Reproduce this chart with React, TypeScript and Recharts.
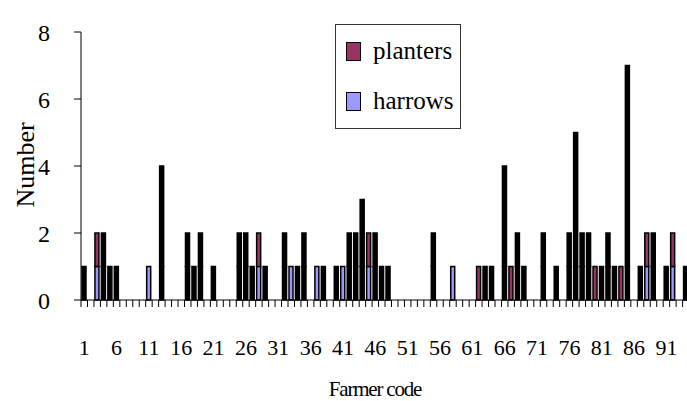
import { Bar, BarChart, XAxis, YAxis } from 'recharts';

// farmer codes 1..96 (the plot runs off the right edge of the picture)
const codes = [
  1, 2, 3, 4, 5, 6, 7, 8, 9, 10,
  11, 12, 13, 14, 15, 16, 17, 18, 19, 20,
  21, 22, 23, 24, 25, 26, 27, 28, 29, 30,
  31, 32, 33, 34, 35, 36, 37, 38, 39, 40,
  41, 42, 43, 44, 45, 46, 47, 48, 49, 50,
  51, 52, 53, 54, 55, 56, 57, 58, 59, 60,
  61, 62, 63, 64, 65, 66, 67, 68, 69, 70,
  71, 72, 73, 74, 75, 76, 77, 78, 79, 80,
  81, 82, 83, 84, 85, 86, 87, 88, 89, 90,
  91, 92, 93, 94, 95, 96,
];

const planters = [
  0, 0, 1, 0, 0, 0, 0, 0, 0, 0,
  0, 0, 0, 0, 0, 0, 0, 0, 0, 0,
  0, 0, 0, 0, 0, 0, 0, 1, 0, 0,
  0, 0, 0, 0, 0, 0, 0, 0, 0, 0,
  0, 0, 0, 0, 1, 0, 0, 0, 0, 0,
  0, 0, 0, 0, 0, 0, 0, 0, 0, 0,
  0, 1, 0, 0, 0, 0, 1, 0, 0, 0,
  0, 0, 0, 0, 0, 0, 0, 0, 0, 1,
  0, 0, 0, 1, 0, 0, 0, 1, 0, 0,
  0, 1, 0, 0, 0, 0,
];

const harrows = [
  0, 0, 1, 0, 0, 0, 0, 0, 0, 0,
  1, 0, 0, 0, 0, 0, 0, 0, 0, 0,
  0, 0, 0, 0, 0, 0, 0, 1, 0, 0,
  0, 0, 1, 0, 0, 0, 1, 0, 0, 0,
  1, 0, 0, 0, 1, 0, 0, 0, 0, 0,
  0, 0, 0, 0, 0, 0, 0, 1, 0, 0,
  0, 0, 0, 0, 0, 0, 0, 0, 0, 0,
  0, 0, 0, 0, 0, 0, 0, 0, 0, 0,
  0, 0, 0, 0, 0, 0, 0, 1, 0, 0,
  0, 1, 0, 0, 0, 0,
];

// black segments (not in the legend)
const otherLow = [
  1, 0, 0, 1, 1, 1, 0, 0, 0, 0,
  0, 0, 1, 0, 0, 0, 1, 1, 1, 0,
  1, 0, 0, 0, 1, 1, 1, 0, 1, 0,
  0, 1, 0, 1, 1, 0, 0, 1, 0, 1,
  0, 1, 1, 1, 0, 1, 1, 1, 0, 0,
  0, 0, 0, 0, 1, 0, 0, 0, 0, 0,
  0, 0, 1, 1, 0, 1, 0, 1, 1, 0,
  0, 1, 0, 1, 0, 1, 1, 1, 1, 0,
  1, 1, 1, 0, 1, 0, 1, 0, 1, 0,
  1, 0, 0, 1, 0, 0,
];

const otherHigh = [
  0, 0, 0, 1, 0, 0, 0, 0, 0, 0,
  0, 0, 3, 0, 0, 0, 1, 0, 1, 0,
  0, 0, 0, 0, 1, 1, 0, 0, 0, 0,
  0, 1, 0, 0, 1, 0, 0, 0, 0, 0,
  0, 1, 1, 2, 0, 1, 0, 0, 0, 0,
  0, 0, 0, 0, 1, 0, 0, 0, 0, 0,
  0, 0, 0, 0, 0, 3, 0, 1, 0, 0,
  0, 1, 0, 0, 0, 1, 4, 1, 1, 0,
  0, 1, 0, 0, 6, 0, 0, 0, 1, 0,
  0, 0, 0, 0, 0, 0,
];

const xTickLabels = [1, 6, 11, 16, 21, 26, 31, 36, 41, 46, 51, 56, 61, 66, 71, 76, 81, 86, 91];
const yTicks = [0, 2, 4, 6, 8];

const FONT = '"Liberation Serif", "Times New Roman", serif';
const CHART_W = 702;
const PLOT_LEFT = 81;
const BAND = (CHART_W - PLOT_LEFT) / codes.length;

const rows = codes.map((code, i) => ({
  code,
  planters: planters[i],
  harrows: harrows[i],
  otherLow: otherLow[i],
  otherHigh: otherHigh[i],
}));

function CodeTick({ x, y, payload }: any) {
  const left = x - BAND / 2;
  const showLabel = xTickLabels.includes(payload.value);
  return (
    <g>
      <line x1={left} y1={y} x2={left} y2={y + 7} stroke="#000" strokeWidth={1} />
      {showLabel ? (
        <text x={x} y={y + 47} dy="0.36em" textAnchor="middle" fontSize={22} fontFamily={FONT} fill="#000">
          {payload.value}
        </text>
      ) : null}
    </g>
  );
}

function LegendBox() {
  const items = [
    { name: 'planters', color: '#993366', top: 17 },
    { name: 'harrows', color: '#9999FF', top: 67 },
  ];
  return (
    <div
      style={{
        position: 'absolute',
        left: 335,
        top: 24,
        width: 124,
        height: 103,
        border: '1px solid #333',
        background: '#fff',
        fontFamily: FONT,
      }}
    >
      {items.map((it) => (
        <div key={it.name}>
          <div
            style={{
              position: 'absolute',
              left: 10,
              top: it.top,
              width: 13,
              height: 17,
              background: it.color,
              border: '1.5px solid #000',
            }}
          />
          <div
            style={{
              position: 'absolute',
              left: 37,
              top: it.top - 6,
              fontSize: 25,
              lineHeight: '30px',
              color: '#000',
            }}
          >
            {it.name}
          </div>
        </div>
      ))}
    </div>
  );
}

export default function App() {
  return (
    <div
      style={{
        position: 'absolute',
        left: 0,
        top: 0,
        width: 687,
        height: 401,
        overflow: 'hidden',
        background: '#fff',
      }}
    >
      <BarChart
        width={CHART_W}
        height={401}
        data={rows}
        margin={{ top: 32, right: 0, bottom: 0, left: 0 }}
        barCategoryGap={0}
      >
        <XAxis
          dataKey="code"
          height={101}
          interval={0}
          tickLine={false}
          tickSize={0}
          tickMargin={0}
          tick={<CodeTick />}
          axisLine={{ stroke: '#000', strokeWidth: 1 }}
          label={{
            content: () => (
              <text x={375} y={388} dy="0.36em" textAnchor="middle" fontSize={21} letterSpacing={-1.2} fontFamily={FONT} fill="#000">
                Farmer code
              </text>
            ),
          }}
        />
        <YAxis
          width={PLOT_LEFT}
          domain={[0, 8]}
          ticks={yTicks}
          interval={0}
          tickSize={7}
          tickMargin={24}
          tick={{ fontSize: 24, fontFamily: FONT, fill: '#000' }}
          tickLine={{ stroke: '#000' }}
          axisLine={{ stroke: '#000', strokeWidth: 1 }}
          label={{
            content: () => (
              <text
                x={25}
                y={165}
                dy="0.36em"
                textAnchor="middle"
                fontSize={26}
                fontFamily={FONT}
                fill="#000"
                transform="rotate(-90 25 165)"
              >
                Number
              </text>
            ),
          }}
        />
        <Bar dataKey="harrows" stackId="a" fill="#9999FF" stroke="#000" strokeWidth={1.5} barSize={4} isAnimationActive={false} />
        <Bar dataKey="planters" stackId="a" fill="#993366" stroke="#000" strokeWidth={1.5} barSize={4} isAnimationActive={false} />
        <Bar dataKey="otherLow" stackId="a" fill="#000" stroke="#000" strokeWidth={1.5} barSize={4} legendType="none" isAnimationActive={false} />
        <Bar dataKey="otherHigh" stackId="a" fill="#000" stroke="#000" strokeWidth={1.5} barSize={4} legendType="none" isAnimationActive={false} />
      </BarChart>
      <LegendBox />
    </div>
  );
}
